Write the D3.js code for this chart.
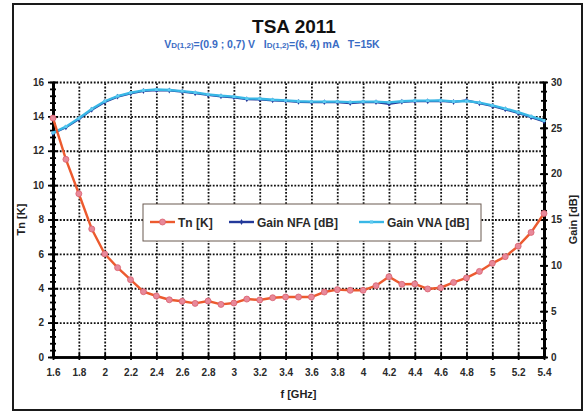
<!DOCTYPE html>
<html>
<head>
<meta charset="utf-8">
<script src="https://cdn.jsdelivr.net/npm/d3@7"></script>
<style>
  body { margin: 0; background: #fff; }
  svg text { font-family: Arial, "Liberation Sans", sans-serif; font-weight: bold; }
  .grid line { stroke: #111; stroke-width: 1.8; stroke-dasharray: 1.8,1.6; }
  .grid path { display: none; }
</style>
</head>
<body>
<script>
// frequency points (GHz)
var freq = [1.6, 1.7, 1.8, 1.9, 2.0, 2.1, 2.2, 2.3, 2.4, 2.5, 2.6, 2.7, 2.8, 2.9, 3.0,
            3.1, 3.2, 3.3, 3.4, 3.5, 3.6, 3.7, 3.8, 3.9, 4.0, 4.1, 4.2, 4.3, 4.4, 4.5,
            4.6, 4.7, 4.8, 4.9, 5.0, 5.1, 5.2, 5.3, 5.4];
// noise temperature [K]
var tnK = [13.9, 11.5, 9.5, 7.45, 6.0, 5.2, 4.5, 3.8, 3.55, 3.33, 3.24, 3.12, 3.26, 3.06, 3.14,
           3.37, 3.32, 3.45, 3.49, 3.49, 3.49, 3.78, 3.92, 3.88, 3.88, 4.15, 4.67, 4.23, 4.25, 3.96,
           4.03, 4.34, 4.6, 4.98, 5.45, 5.84, 6.45, 7.25, 8.35];
// gain measured with NFA [dB]
var gainNFA = [24.4, 25.05, 25.95, 26.98, 27.82, 28.4, 28.76, 29.02, 29.12, 29.08, 28.94, 28.78, 28.58, 28.44, 28.33,
               28.12, 28.1, 28.0, 27.94, 27.83, 27.8, 27.8, 27.8, 27.7, 27.8, 27.8, 27.62, 27.84, 27.9, 27.9,
               27.95, 27.82, 28.0, 27.68, 27.38, 27.02, 26.62, 26.16, 25.7];
// gain measured with VNA [dB]
var gainVNA = [24.45, 25.13, 26.04, 27.06, 27.9, 28.47, 28.83, 29.09, 29.18, 29.13, 29.0, 28.85, 28.65, 28.5, 28.4,
               28.2, 28.18, 28.07, 28.0, 27.9, 27.86, 27.86, 27.86, 27.8, 27.86, 27.86, 27.78, 27.9, 27.97, 27.97,
               28.0, 27.88, 27.93, 27.75, 27.45, 27.1, 26.7, 26.25, 25.8];

var xTickVals = [1.6, 1.8, 2, 2.2, 2.4, 2.6, 2.8, 3, 3.2, 3.4, 3.6, 3.8, 4, 4.2, 4.4, 4.6, 4.8, 5, 5.2, 5.4];
var tnTickVals = [0, 2, 4, 6, 8, 10, 12, 14, 16];
var gainTickVals = [0, 5, 10, 15, 20, 25, 30];

var W = 584, H = 412;
var margin = { left: 53, right: 40, top: 82, bottom: 55 };
var width = W - margin.left - margin.right;
var height = H - margin.top - margin.bottom;

var svg = d3.select("body").append("svg").attr("width", W).attr("height", H);

// outer frame
svg.append("rect")
  .attr("x", 13).attr("y", 4).attr("width", 569).attr("height", 406)
  .attr("fill", "#fff").attr("stroke", "#1a1a1a").attr("stroke-width", 2);

// title
svg.append("text")
  .attr("x", 294).attr("y", 33)
  .attr("text-anchor", "middle")
  .style("font-size", "19px").attr("fill", "#111")
  .text("TSA 2011");

var sub = svg.append("text")
  .attr("x", 272).attr("y", 48)
  .attr("text-anchor", "middle")
  .style("font-size", "10.5px").style("white-space", "pre")
  .attr("fill", "#3a6cc4");
sub.append("tspan").text("V");
sub.append("tspan").style("font-size", "8px").text("D(1,2)");
sub.append("tspan").text("=(0.9 ; 0,7) V   I");
sub.append("tspan").style("font-size", "8px").text("D(1,2)");
sub.append("tspan").text("=(6, 4) mA   T=15K");

var x = d3.scaleLinear().domain([1.6, 5.4]).range([0, width]);
var yL = d3.scaleLinear().domain([0, 16]).range([height, 0]);
var yR = d3.scaleLinear().domain([0, 30]).range([height, 0]);

var chart = svg.append("g")
  .attr("transform", "translate(" + margin.left + "," + margin.top + ")");

// gridlines
chart.append("g").attr("class", "grid")
  .attr("transform", "translate(0," + height + ")")
  .call(d3.axisBottom(x).tickValues(xTickVals.slice(1, -1)).tickSize(-height).tickFormat(""));
chart.append("g").attr("class", "grid")
  .call(d3.axisLeft(yL).tickValues(tnTickVals.slice(1)).tickSize(-width).tickFormat(""));

function styleAxis(g) {
  g.select(".domain").attr("stroke", "#000").attr("stroke-width", 2.6);
  g.selectAll(".tick line").attr("stroke", "#000").attr("stroke-width", 1.8);
  g.selectAll("text").style("font-size", "10px").attr("fill", "#2a2a2a");
}

// left axis (major crossing ticks + minor ticks)
chart.append("g")
  .call(d3.axisLeft(yL).tickValues(d3.range(0, 16.01, 0.4)).tickSize(3).tickSizeOuter(0).tickFormat(""))
  .call(styleAxis);
chart.append("g")
  .call(d3.axisRight(yL).tickValues(d3.range(0, 16.01, 0.4)).tickSize(3).tickSizeOuter(0).tickFormat(""))
  .call(styleAxis);
chart.append("g")
  .call(d3.axisRight(yL).tickValues(tnTickVals).tickSize(5).tickSizeOuter(0).tickFormat(""))
  .call(styleAxis);
chart.append("g")
  .call(d3.axisLeft(yL).tickValues(tnTickVals).tickSize(5).tickSizeOuter(0).tickPadding(4))
  .call(styleAxis);

// right axis
var right = chart.append("g").attr("transform", "translate(" + width + ",0)");
right.append("g")
  .call(d3.axisLeft(yR).tickValues(d3.range(0, 30.01, 1)).tickSize(3).tickSizeOuter(0).tickFormat(""))
  .call(styleAxis);
right.append("g")
  .call(d3.axisRight(yR).tickValues(d3.range(0, 30.01, 1)).tickSize(3).tickSizeOuter(0).tickFormat(""))
  .call(styleAxis);
right.append("g")
  .call(d3.axisLeft(yR).tickValues(gainTickVals).tickSize(4).tickSizeOuter(0).tickFormat(""))
  .call(styleAxis);
right.append("g")
  .call(d3.axisRight(yR).tickValues(gainTickVals).tickSize(4).tickSizeOuter(0).tickPadding(3))
  .call(styleAxis);

// bottom axis
var bottom = chart.append("g").attr("transform", "translate(0," + height + ")");
bottom.append("g")
  .call(d3.axisTop(x).tickValues(xTickVals).tickSize(4).tickSizeOuter(0).tickFormat(""))
  .call(styleAxis);
bottom.append("g")
  .call(d3.axisBottom(x).tickValues(xTickVals).tickSize(3).tickSizeOuter(0).tickPadding(9)
    .tickFormat(function(d) { return String(d); }))
  .call(styleAxis);

// axis titles
chart.append("text")
  .attr("x", width / 2).attr("y", height + 41)
  .attr("text-anchor", "middle").style("font-size", "11px").attr("fill", "#222")
  .text("f [GHz]");
chart.append("text")
  .attr("transform", "translate(" + (-28) + "," + (height / 2) + ") rotate(-90)")
  .attr("text-anchor", "middle").style("font-size", "11px").attr("fill", "#222")
  .text("Tn [K]");
chart.append("text")
  .attr("transform", "translate(" + (width + 33) + "," + (height / 2) + ") rotate(-90)")
  .attr("text-anchor", "middle").style("font-size", "11px").attr("fill", "#222")
  .text("Gain [dB]");

// series
var tnColor = "#ec5a2e", nfaColor = "#23399a", vnaColor = "#38b7e6";

var lineTn = d3.line().x(function(d, i) { return x(freq[i]); }).y(function(d) { return yL(d); });
var lineG = d3.line().x(function(d, i) { return x(freq[i]); }).y(function(d) { return yR(d); });

chart.append("path").attr("d", lineG(gainNFA))
  .attr("fill", "none").attr("stroke", nfaColor).attr("stroke-width", 2.2);
chart.selectAll("path.nfa").data(gainNFA).enter().append("path")
  .attr("class", "nfa")
  .attr("transform", function(d, i) { return "translate(" + x(freq[i]) + "," + yR(d) + ")"; })
  .attr("d", d3.symbol(d3.symbolDiamond).size(10))
  .attr("fill", nfaColor);

chart.append("path").attr("d", lineG(gainVNA))
  .attr("fill", "none").attr("stroke", vnaColor).attr("stroke-width", 2.4);
chart.selectAll("path.vna").data(gainVNA).enter().append("path")
  .attr("class", "vna")
  .attr("transform", function(d, i) { return "translate(" + x(freq[i]) + "," + yR(d) + ")"; })
  .attr("d", d3.symbol(d3.symbolSquare).size(9))
  .attr("fill", "#5ccaf0");

chart.append("path").attr("d", lineTn(tnK))
  .attr("fill", "none").attr("stroke", tnColor).attr("stroke-width", 2.4);
chart.selectAll("circle.tn").data(tnK).enter().append("circle")
  .attr("class", "tn")
  .attr("cx", function(d, i) { return x(freq[i]); })
  .attr("cy", function(d) { return yL(d); })
  .attr("r", 3)
  .attr("fill", "#e8899a").attr("stroke", "#d9606e").attr("stroke-width", 0.8);

// legend
var legend = svg.append("g").attr("transform", "translate(143,204)");
legend.append("rect")
  .attr("width", 338).attr("height", 37)
  .attr("fill", "#fff").attr("stroke", "#6b5a50").attr("stroke-width", 1);

var legendItems = [
  { label: "Tn [K]", color: tnColor, x: 7, mark: "circle" },
  { label: "Gain NFA [dB]", color: nfaColor, x: 86, mark: "diamond" },
  { label: "Gain VNA [dB]", color: vnaColor, x: 216, mark: "square" }
];
legendItems.forEach(function(it) {
  var g = legend.append("g").attr("transform", "translate(" + it.x + ",18)");
  g.append("line").attr("x1", 0).attr("x2", 25).attr("stroke", it.color).attr("stroke-width", 2.4);
  if (it.mark == "circle") {
    g.append("circle").attr("cx", 12.5).attr("r", 3)
      .attr("fill", "#e8899a").attr("stroke", "#d9606e").attr("stroke-width", 0.8);
  } else {
    g.append("path").attr("transform", "translate(12.5,0)")
      .attr("d", d3.symbol(it.mark == "diamond" ? d3.symbolDiamond : d3.symbolSquare).size(10))
      .attr("fill", it.mark == "diamond" ? nfaColor : "#5ccaf0");
  }
  g.append("text").attr("x", 28).attr("y", 5)
    .style("font-size", "12px").attr("fill", "#2a2a2a")
    .text(it.label);
});
</script>
</body>
</html>
